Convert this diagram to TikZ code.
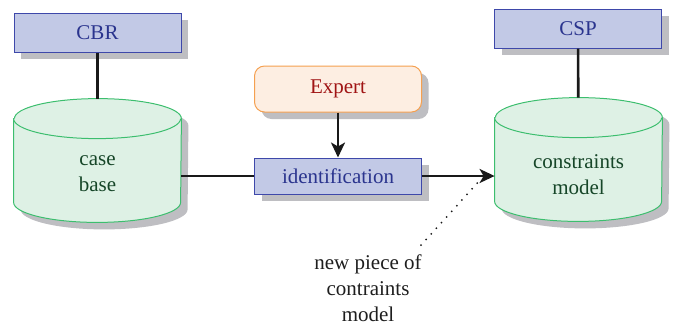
\documentclass[tikz,border=0pt]{standalone}
\usepackage{fontspec}
\setmainfont{Liberation Serif}
\usetikzlibrary{arrows.meta,shadows}
\definecolor{boxfill}{RGB}{194,201,230}
\definecolor{boxdraw}{RGB}{62,72,170}
\definecolor{boxtext}{RGB}{42,52,142}
\definecolor{exfill}{RGB}{253,238,226}
\definecolor{exdraw}{RGB}{245,160,80}
\definecolor{extext}{RGB}{160,20,20}
\definecolor{cylfill}{RGB}{222,241,229}
\definecolor{cyldraw}{RGB}{60,190,110}
\definecolor{cyltextc}{RGB}{22,70,40}
\definecolor{shadowc}{RGB}{190,190,194}
\definecolor{notec}{RGB}{30,30,30}
\newcommand\drawcyl[1]{%
  \fill[shadowc] ([xshift=3.5pt,yshift=-13.5pt]#1.north west) -- ([xshift=3.5pt,yshift=6.5pt]#1.south west)
    arc[start angle=180,end angle=360,x radius=41.75pt,y radius=10pt]
    -- ([xshift=3.5pt,yshift=-13.5pt]#1.north east)
    arc[start angle=0,end angle=180,x radius=41.75pt,y radius=10pt] -- cycle;
  \filldraw[cylline] ([yshift=-10pt]#1.north west) -- ([yshift=10pt]#1.south west)
    arc[start angle=180,end angle=360,x radius=41.75pt,y radius=10pt]
    -- ([yshift=-10pt]#1.north east)
    arc[start angle=0,end angle=180,x radius=41.75pt,y radius=10pt] -- cycle;
  \draw[cylline] ([yshift=-10pt]#1.north west)
    arc[start angle=180,end angle=360,x radius=41.75pt,y radius=10pt];
}
\begin{document}
\begin{tikzpicture}[x=0.5pt,y=-0.5pt,font=\fontsize{10.5}{13}\selectfont,
  boxshadow/.style={drop shadow={shadow xshift=3.5pt,shadow yshift=-3.5pt,fill=shadowc,opacity=1}},
  bluebox/.style={draw=boxdraw,fill=boxfill,text=boxtext,line width=0.5pt,
    minimum width=83.5pt,minimum height=19.5pt,inner sep=0pt,boxshadow},
  expertbox/.style={draw=exdraw,fill=exfill,text=extext,line width=0.5pt,rounded corners=5pt,
    minimum width=83.5pt,minimum height=23pt,inner sep=0pt,boxshadow},
  cylarea/.style={minimum width=83.5pt,minimum height=61.5pt,inner sep=0pt},
  cylline/.style={draw=cyldraw,fill=cylfill,line width=0.5pt},
  cyltext/.style={text=cyltextc,align=center,inner sep=0pt},
  conn/.style={line width=1.3pt,draw=black!90},
  arrow/.style={conn,-{Stealth[length=7.5pt,width=7pt,inset=2pt]}},
  notetext/.style={text=notec,align=center,inner sep=0pt},
  dotline/.style={line width=1pt,line cap=round,dash pattern=on 0pt off 3.8pt,draw=black!90}]
\useasboundingbox (0,0) rectangle (673,323);
% nodes
\node[bluebox] (cbr) at (97.5,32.5) {CBR};
\node[bluebox] (csp) at (578,28.5) {CSP};
\node[cylarea] (cb) at (97.5,160.5) {};
\node[cylarea] (cm) at (578.5,159.5) {};
\drawcyl{cb}
\drawcyl{cm}
\node[cyltext] (cbt) at (97.5,174) {case\\base};
\node[cyltext] (cmt) at (578.5,175) {constraints\\model};
\node[expertbox] (ex) at (338,89) {Expert};
\node[bluebox,minimum height=18pt] (id) at (338,176) {identification};
\node[notetext] (note) at (368,288) {new piece of\\contraints\\model};
\coordinate (tip) at (481,179);
% connectors
\draw[conn] (cbr) -- (cb);
\draw[conn] (csp) -- (cm);
\draw[conn] (id.west) -- (id.west -| cb.east);
\draw[arrow] (ex) -- (id);
\draw[arrow] (id.east) -- (id.east -| cm.west);
\draw[dotline] ([xshift=-0.5pt,yshift=4.5pt]note.north east) -- (tip);
\end{tikzpicture}
\end{document}
